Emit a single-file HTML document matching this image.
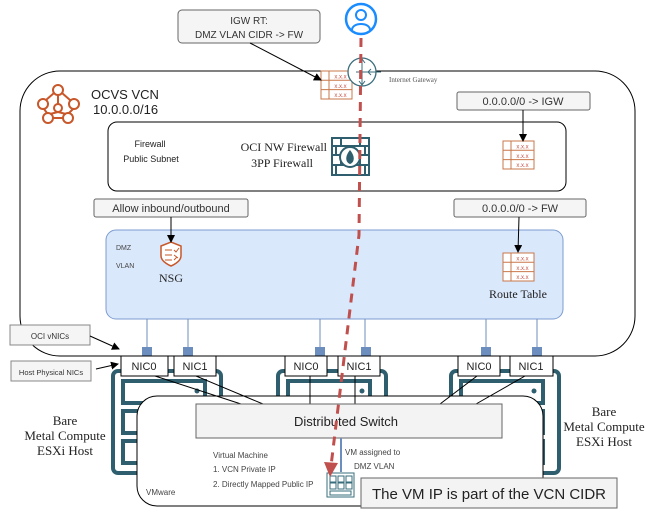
<!DOCTYPE html>
<html><head><meta charset="utf-8"><style>
body{margin:0;background:#fff;width:660px;height:517px;overflow:hidden}
svg text{font-family:"Liberation Sans",sans-serif}
.s{font-family:"Liberation Serif",serif !important}
</style></head><body>
<svg width="660" height="517" viewBox="0 0 660 517" xmlns="http://www.w3.org/2000/svg">
<defs>
<marker id="a" markerWidth="8" markerHeight="8" refX="7" refY="4" orient="auto" markerUnits="userSpaceOnUse"><path d="M0,0 L8,4 L0,8 Z" fill="#000"/></marker>
<g id="rt">
<rect x="0" y="0" width="31" height="28" fill="#fff" stroke="#c8774a" stroke-width="1"/>
<line x1="0" y1="9.3" x2="31" y2="9.3" stroke="#c8774a"/><line x1="0" y1="18.6" x2="31" y2="18.6" stroke="#c8774a"/>
<line x1="8" y1="0" x2="8" y2="28" stroke="#c8774a"/>
<text x="19.5" y="7.5" font-size="6" fill="#c8574a" text-anchor="middle">x.x.x</text>
<text x="19.5" y="16.8" font-size="6" fill="#c8574a" text-anchor="middle">x.x.x</text>
<text x="19.5" y="26" font-size="6" fill="#c8574a" text-anchor="middle">x.x.x</text>
</g>
<g id="srv" fill="none" stroke="#2f5f6e" stroke-width="4">
<rect x="0" y="0" width="108" height="102" rx="5"/>
<rect x="10" y="10" width="82" height="22"/>
<rect x="10" y="40" width="82" height="22"/>
<rect x="10" y="70" width="82" height="22"/>
</g>
</defs>

<rect x="20" y="71" width="615" height="285" rx="40" fill="#fff" stroke="#000" stroke-width="1"/>
<g fill="none" stroke="#c8572a" stroke-width="2">
<circle cx="58" cy="90" r="5"/><circle cx="43" cy="104" r="5"/><circle cx="74" cy="104" r="5"/>
<circle cx="58" cy="108" r="4"/><circle cx="48" cy="118" r="5"/><circle cx="68" cy="118" r="5"/>
<path d="M54,93 L46,100 M62,93 L70,100 M44,109 L47,113 M73,109 L69,113 M53,118 L63,118 M58,95 L58,104 M58,112 L50,114 M58,112 L66,114"/>
</g>
<text x="91" y="99" font-size="13" fill="#222">OCVS VCN</text>
<text x="93" y="114" font-size="13" fill="#222">10.0.0.0/16</text>

<use href="#rt" x="321" y="71"/>
<circle cx="362" cy="72" r="14" fill="#fff" stroke="#3a6d7c" stroke-width="1.3"/>
<path d="M362,60 V84 M356,72 H381 M359,63 L362,59 L365,63 M359,81 L362,85 L365,81 M371,69 L368,72 L371,75" fill="none" stroke="#3a6d7c" stroke-width="1"/>
<text x="389" y="82" font-size="7" fill="#555" class="s">Internet Gateway</text>

<rect x="178" y="10" width="142" height="33" rx="4" fill="#f5f5f5" stroke="#666"/>
<text x="249" y="24" font-size="10" fill="#333" text-anchor="middle">IGW RT:</text>
<text x="249" y="38" font-size="10" fill="#333" text-anchor="middle">DMZ VLAN CIDR -&gt; FW</text>
<line x1="250" y1="43" x2="321" y2="80" stroke="#000" marker-end="url(#a)"/>

<circle cx="361" cy="19" r="15" fill="#fff" stroke="#1a8cff" stroke-width="2.5"/>
<circle cx="361" cy="15" r="5" fill="none" stroke="#1a8cff" stroke-width="2"/>
<path d="M352,30 C352,22 370,22 370,30" fill="none" stroke="#1a8cff" stroke-width="2"/>

<rect x="108" y="122" width="458" height="69" rx="9" fill="#fff" stroke="#000"/>
<text x="150" y="147" font-size="9" fill="#222" text-anchor="middle">Firewall</text>
<text x="151" y="162" font-size="9" fill="#222" text-anchor="middle">Public Subnet</text>
<text x="327" y="151" font-size="12" fill="#222" text-anchor="end" class="s">OCI NW Firewall</text>
<text x="313" y="167" font-size="12" fill="#222" text-anchor="end" class="s">3PP Firewall</text>
<g fill="none" stroke="#2f5f6e" stroke-width="2">
<rect x="332" y="138" width="37" height="37"/>
<path d="M332,146 H369 M332,155 H369 M332,165 H369 M341,138 V146 M360,138 V146 M336,146 V155 M365,146 V155 M336,165 V175 M365,165 V175 M341,155 V165 M360,155 V165"/>
<circle cx="350" cy="157" r="10" fill="#fff"/>
<path d="M350,150 C345,156 345,162 350,164 C355,162 355,156 350,150Z" fill="#2f5f6e" stroke="none"/>
</g>
<use href="#rt" x="503" y="141"/>

<rect x="457" y="92" width="133" height="18" rx="2" fill="#f5f5f5" stroke="#666"/>
<text x="523" y="105" font-size="11" fill="#333" text-anchor="middle">0.0.0.0/0 -&gt; IGW</text>
<line x1="523" y1="110" x2="523" y2="141" stroke="#000" marker-end="url(#a)"/>

<rect x="106" y="230" width="457" height="89" rx="10" fill="#dae8fc" stroke="#7c9cd0"/>
<text x="116" y="250" font-size="7" fill="#444">DMZ</text>
<text x="116" y="268" font-size="7" fill="#444">VLAN</text>
<path d="M161,246 L171,242 L181,246 V256 C181,262 171,266 171,266 C171,266 161,262 161,256Z" fill="#fff" stroke="#c8572a" stroke-width="1.5"/>
<path d="M165,250 H172 M165,255 H172 M165,260 H172 M174,250 l2,2 l3,-4 M174,255 l4,3 M174,260 l3,-3" stroke="#c8572a" stroke-width="1" fill="none"/>
<text x="171" y="282" font-size="12" fill="#222" text-anchor="middle" class="s">NSG</text>
<use href="#rt" x="503" y="253"/>
<text x="518" y="298" font-size="12" fill="#222" text-anchor="middle" class="s">Route Table</text>

<rect x="94" y="199" width="154" height="18" rx="2" fill="#f5f5f5" stroke="#666"/>
<text x="171" y="212" font-size="11" fill="#333" text-anchor="middle">Allow inbound/outbound</text>
<line x1="171" y1="217" x2="171" y2="242" stroke="#000" marker-end="url(#a)"/>
<rect x="454" y="199" width="132" height="18" rx="2" fill="#f5f5f5" stroke="#666"/>
<text x="520" y="212" font-size="11" fill="#333" text-anchor="middle">0.0.0.0/0 -&gt; FW</text>
<line x1="519" y1="217" x2="518" y2="252" stroke="#000" marker-end="url(#a)"/>

<g stroke="#6c8ebf" stroke-width="1">
<line x1="147" y1="319" x2="147" y2="347"/><line x1="188" y1="319" x2="188" y2="347"/>
<line x1="320" y1="319" x2="320" y2="347"/><line x1="365" y1="319" x2="365" y2="347"/>
<line x1="486" y1="319" x2="486" y2="347"/><line x1="537" y1="319" x2="537" y2="347"/>
</g>
<g fill="#6c8ebf">
<rect x="142" y="347" width="10" height="9"/><rect x="183" y="347" width="10" height="9"/>
<rect x="315" y="347" width="10" height="9"/><rect x="361" y="347" width="10" height="9"/>
<rect x="481" y="347" width="10" height="9"/><rect x="532" y="347" width="10" height="9"/>
</g>

<use href="#srv" x="113" y="371"/>
<use href="#srv" x="278" y="371"/>
<use href="#srv" x="451" y="371"/>
<circle cx="197" cy="391" r="2.5" fill="#2f5f6e"/><circle cx="362" cy="391" r="2.5" fill="#2f5f6e"/><circle cx="534" cy="391" r="2.5" fill="#2f5f6e"/>

<g fill="#fff" stroke="#000">
<rect x="121" y="356" width="47" height="20"/><rect x="174" y="356" width="42" height="20"/>
<rect x="285" y="356" width="42" height="20"/><rect x="338" y="356" width="42" height="20"/>
<rect x="458" y="356" width="42" height="20"/><rect x="510" y="356" width="43" height="20"/>
</g>
<g font-size="11" fill="#222" text-anchor="middle">
<text x="144" y="370">NIC0</text><text x="195" y="370">NIC1</text>
<text x="306" y="370">NIC0</text><text x="359" y="370">NIC1</text>
<text x="479" y="370">NIC0</text><text x="531" y="370">NIC1</text>
</g>

<rect x="10" y="325" width="80" height="20" fill="#f5f5f5" stroke="#888"/>
<text x="50" y="339" font-size="8" fill="#333" text-anchor="middle">OCI vNICs</text>
<line x1="90" y1="336" x2="119" y2="349" stroke="#000" marker-end="url(#a)"/>
<rect x="11" y="361" width="80" height="20" fill="#f5f5f5" stroke="#888"/>
<text x="51" y="375" font-size="7.5" fill="#333" text-anchor="middle">Host Physical NICs</text>
<line x1="96" y1="369" x2="118" y2="364" stroke="#000" marker-end="url(#a)"/>

<rect x="137" y="396" width="406" height="110" rx="20" fill="#fff" stroke="#000"/>
<g stroke="#000" stroke-width="1">
<line x1="155" y1="376" x2="241" y2="404"/><line x1="196" y1="376" x2="263" y2="404"/>
<line x1="310" y1="376" x2="310" y2="404"/><line x1="355" y1="376" x2="355" y2="404"/>
<line x1="477" y1="376" x2="440" y2="404"/><line x1="525" y1="376" x2="476" y2="404"/>
</g>
<rect x="196" y="404" width="306" height="34" fill="#f3f3f3" stroke="#666"/>
<text x="346" y="426" font-size="13" fill="#222" text-anchor="middle">Distributed Switch</text>
<line x1="341" y1="438" x2="341" y2="472" stroke="#6c8ebf" stroke-width="2"/>
<text x="345" y="455" font-size="8" fill="#444">VM assigned to</text>
<text x="354" y="469" font-size="8" fill="#444">DMZ VLAN</text>
<text x="213" y="458" font-size="8" fill="#444">Virtual Machine</text>
<text x="213" y="472" font-size="8" fill="#444">1. VCN Private IP</text>
<text x="213" y="487" font-size="8" fill="#444">2. Directly Mapped Public IP</text>
<text x="146" y="495" font-size="8" fill="#444">VMware</text>
<g fill="none" stroke="#3a6d7c" stroke-width="1">
<rect x="327" y="473" width="27" height="24"/>
<rect x="330" y="476" width="6" height="6"/><rect x="338" y="476" width="6" height="6"/><rect x="346" y="476" width="6" height="6"/>
<rect x="330" y="483" width="6" height="6"/><rect x="338" y="483" width="6" height="6"/><rect x="346" y="483" width="6" height="6"/>
<rect x="330" y="491" width="21" height="4"/>
</g>
<rect x="361" y="478" width="256" height="30" fill="#f3f3f3" stroke="#666"/>
<text x="489" y="499" font-size="15" fill="#222" text-anchor="middle">The VM IP is part of the VCN CIDR</text>

<text x="65" y="425" font-size="13" fill="#222" text-anchor="middle" class="s">Bare</text>
<text x="65" y="440" font-size="13" fill="#222" text-anchor="middle" class="s">Metal Compute</text>
<text x="65" y="455" font-size="13" fill="#222" text-anchor="middle" class="s">ESXi Host</text>
<text x="604" y="416" font-size="13" fill="#222" text-anchor="middle" class="s">Bare</text>
<text x="604" y="431" font-size="13" fill="#222" text-anchor="middle" class="s">Metal Compute</text>
<text x="604" y="446" font-size="13" fill="#222" text-anchor="middle" class="s">ESXi Host</text>

<path d="M361,38 L359,235 L331,466" fill="none" stroke="#c0504d" stroke-width="3" stroke-dasharray="9,7"/>
<path d="M324,462 L338,463 L330,477 Z" fill="#c0504d"/>
</svg>
</body></html>
